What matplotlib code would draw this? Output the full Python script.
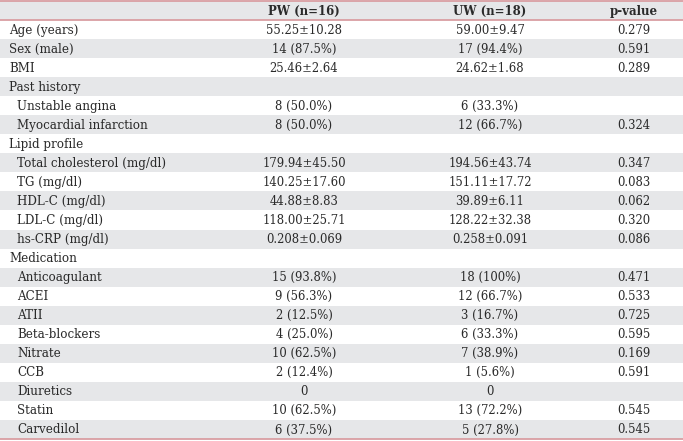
import matplotlib
matplotlib.use("Agg")
import matplotlib.pyplot as plt
from matplotlib.patches import Rectangle

header = ["", "PW (n=16)", "UW (n=18)", "p-value"]
labels = ["Age (years)", "Sex (male)", "BMI", "Past history", "Unstable angina",
          "Myocardial infarction", "Lipid profile", "Total cholesterol (mg/dl)",
          "TG (mg/dl)", "HDL-C (mg/dl)", "LDL-C (mg/dl)", "hs-CRP (mg/dl)",
          "Medication", "Anticoagulant", "ACEI", "ATII", "Beta-blockers",
          "Nitrate", "CCB", "Diuretics", "Statin", "Carvedilol"]
indented = [False, False, False, False, True, True, False, True, True, True,
            True, True, False, True, True, True, True, True, True, True, True, True]
pw = ["55.25±10.28", "14 (87.5%)", "25.46±2.64", "", "8 (50.0%)", "8 (50.0%)", "",
      "179.94±45.50", "140.25±17.60", "44.88±8.83", "118.00±25.71", "0.208±0.069", "",
      "15 (93.8%)", "9 (56.3%)", "2 (12.5%)", "4 (25.0%)", "10 (62.5%)", "2 (12.4%)",
      "0", "10 (62.5%)", "6 (37.5%)"]
uw = ["59.00±9.47", "17 (94.4%)", "24.62±1.68", "", "6 (33.3%)", "12 (66.7%)", "",
      "194.56±43.74", "151.11±17.72", "39.89±6.11", "128.22±32.38", "0.258±0.091", "",
      "18 (100%)", "12 (66.7%)", "3 (16.7%)", "6 (33.3%)", "7 (38.9%)", "1 (5.6%)",
      "0", "13 (72.2%)", "5 (27.8%)"]
pval = ["0.279", "0.591", "0.289", "", "", "0.324", "", "0.347", "0.083", "0.062",
        "0.320", "0.086", "", "0.471", "0.533", "0.725", "0.595", "0.169", "0.591",
        "", "0.545", "0.545"]

W, H = 683, 441
fig = plt.figure(figsize=(W / 100, H / 100), dpi=100)
ax = fig.add_axes([0, 0, 1, 1])
ax.set_xlim(0, W)
ax.set_ylim(H, 0)
ax.axis("off")

top = 1.0
bottom = 439.0
nrows = len(labels) + 1
rh = (bottom - top) / nrows
gray = "#e6e7e9"
red = "#d99ea3"
font = "DejaVu Serif"
fs_lab = 8.6
fs_num = 8.4
fs_head = 8.5
col_x = [9, 304, 490, 634]
tc = "#2a2a2a"

for i in range(nrows):
    y0 = top + i * rh
    if i % 2 == 0:
        ax.add_patch(Rectangle((0, y0), W, rh, facecolor=gray, edgecolor="none"))

# header
yc = top + rh / 2 + 0.5
for j, h in enumerate(header):
    if h:
        ax.text(col_x[j], yc, h, ha="center", va="center", fontsize=fs_head,
                fontweight="bold", family=font, color=tc)

for i, lab in enumerate(labels):
    yc = top + (i + 1) * rh + rh / 2 + 0.5
    x = col_x[0] + (8 if indented[i] else 0)
    ax.text(x, yc, lab, ha="left", va="center", fontsize=fs_lab, family=font, color=tc)
    for j, v in zip([1, 2, 3], [pw[i], uw[i], pval[i]]):
        if v:
            ax.text(col_x[j], yc, v, ha="center", va="center", fontsize=fs_num,
                    family=font, color=tc)

for y in [top, top + rh, bottom]:
    ax.plot([0, W], [y, y], color=red, lw=1.3, solid_capstyle="butt")

fig.savefig("out.png", dpi=100)
